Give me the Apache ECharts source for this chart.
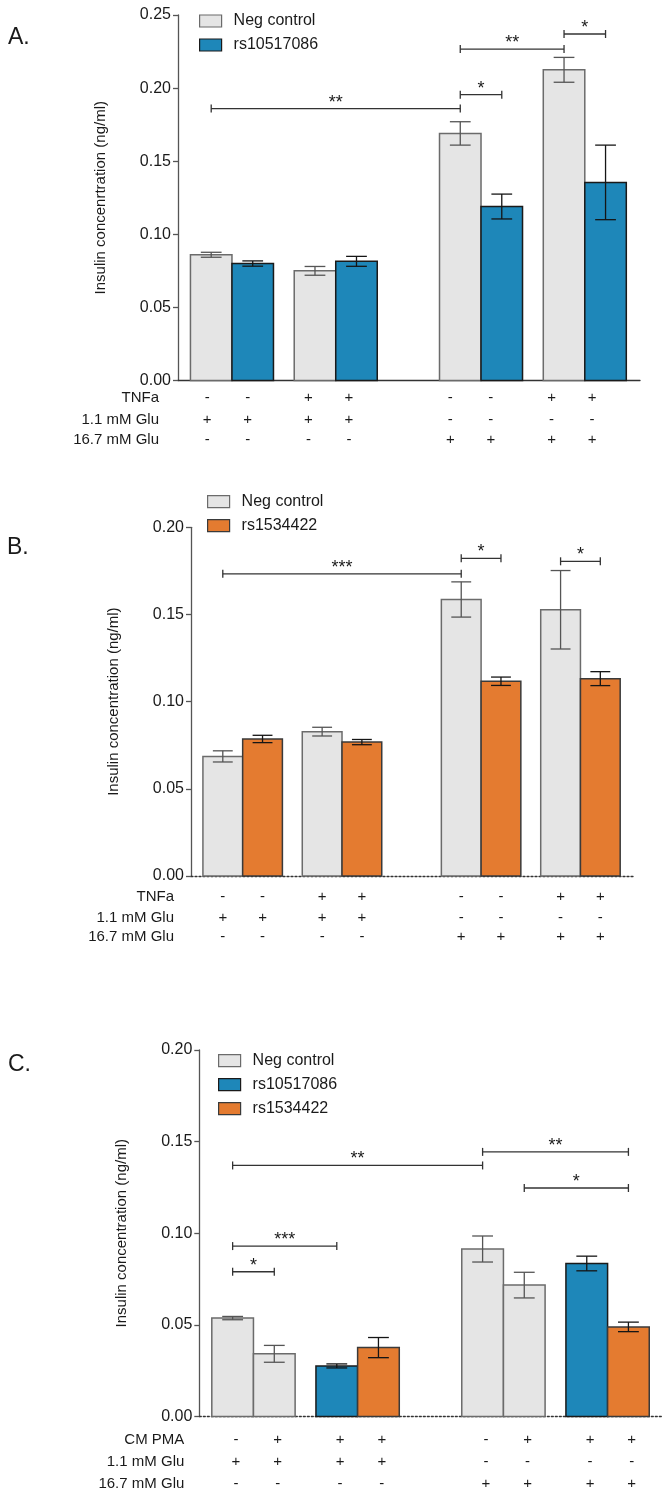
<!DOCTYPE html>
<html>
<head>
<meta charset="utf-8">
<title>Insulin concentration</title>
<script src="https://cdn.jsdelivr.net/npm/echarts@6/dist/echarts.min.js"></script>
<style>
html, body { margin: 0; padding: 0; background: #fff; }
#main { width: 671px; height: 1502px; }
</style>
</head>
<body>
<div id="main"></div>
<script>
var NEG = 'Neg control', RS1 = 'rs10517086', RS2 = 'rs1534422';

// ---- panel A ----
var aGroups = [NEG, RS1, NEG, RS1, NEG, RS1, NEG, RS1];
var aMeans  = [0.086, 0.080, 0.075, 0.0815, 0.169, 0.119, 0.2125, 0.1355];
var aErrors = [0.0017, 0.0018, 0.003, 0.0034, 0.008, 0.0085, 0.0085, 0.0255];
var aRowNames = ['TNFa', '1.1 mM Glu', '16.7 mM Glu'];
var aTnfa   = ['-', '-', '+', '+', '-', '-', '+', '+'];
var aGlu11  = ['+', '+', '+', '+', '-', '-', '-', '-'];
var aGlu167 = ['-', '-', '-', '-', '+', '+', '+', '+'];
// [label, from bar, to bar, height]
var aStars = [['**', 0, 4, 0.186], ['*', 4, 5, 0.1955], ['**', 4, 6, 0.2267], ['*', 6, 7, 0.237]];

// ---- panel B ----
var bGroups = [NEG, RS2, NEG, RS2, NEG, RS2, NEG, RS2];
var bMeans  = [0.0686, 0.0786, 0.0828, 0.0768, 0.1586, 0.1117, 0.1527, 0.1132];
var bErrors = [0.0032, 0.0021, 0.0025, 0.0015, 0.0101, 0.0024, 0.0225, 0.004];
var bRowNames = ['TNFa', '1.1 mM Glu', '16.7 mM Glu'];
var bTnfa   = ['-', '-', '+', '+', '-', '-', '+', '+'];
var bGlu11  = ['+', '+', '+', '+', '-', '-', '-', '-'];
var bGlu167 = ['-', '-', '-', '-', '+', '+', '+', '+'];
var bStars = [['***', 0, 4, 0.1733], ['*', 4, 5, 0.1822], ['*', 6, 7, 0.1805]];

// ---- panel C ----
var cGroups = [NEG, NEG, RS1, RS2, NEG, NEG, RS1, RS2];
var cMeans  = [0.0537, 0.0342, 0.0276, 0.0376, 0.0914, 0.0717, 0.0835, 0.0489];
var cErrors = [0.0009, 0.0046, 0.0011, 0.0055, 0.0071, 0.007, 0.004, 0.0026];
var cRowNames = ['CM PMA', '1.1 mM Glu', '16.7 mM Glu'];
var cPma    = ['-', '+', '+', '+', '-', '+', '+', '+'];
var cGlu11  = ['+', '+', '+', '+', '-', '-', '-', '-'];
var cGlu167 = ['-', '-', '-', '-', '+', '+', '+', '+'];
var cStars = [['**', 0, 4, 0.137], ['***', 0, 2, 0.093], ['*', 0, 1, 0.079], ['**', 4, 7, 0.1444], ['*', 5, 7, 0.1247]];

var FONT = 'Arial, "Liberation Sans", Helvetica, sans-serif';
var TXT = '#1a1a1a';
var FILL = {}, BORDER = {}, ERR = {};
FILL[NEG] = '#e5e5e5'; BORDER[NEG] = '#6b6b6b'; ERR[NEG] = '#555555';
FILL[RS1] = '#1e87b9'; BORDER[RS1] = '#1a1a1a'; ERR[RS1] = '#151515';
FILL[RS2] = '#e47b30'; BORDER[RS2] = '#3a3a3a'; ERR[RS2] = '#151515';

// bars come in pairs, pairs in groups of two
function slotPos(i) {
    return i + 0.5 * Math.floor(i / 2) + Math.floor(i / 4);
}

var panels = [
    { letter: 'A.', groups: aGroups, means: aMeans, errors: aErrors, rowNames: aRowNames,
      rows: [aTnfa, aGlu11, aGlu167], stars: aStars, yMax: 0.25,
      yName: 'Insulin concenrtration (ng/ml)',
      grid: { left: 178, top: 15, width: 462, height: 365.5 }, zeroType: 'solid',
      rowDy: [17.8, 39.5, 59.5], rowLabelDx: -19, colScale: 0.976, colShift: -0.097,
      legend: { left: 199, top: 13 }, letterPos: { left: 8, top: 26 } },
    { letter: 'B.', groups: bGroups, means: bMeans, errors: bErrors, rowNames: bRowNames,
      rows: [bTnfa, bGlu11, bGlu167], stars: bStars, yMax: 0.20,
      yName: 'Insulin concentration (ng/ml)',
      grid: { left: 191, top: 527.3, width: 442.3, height: 348.7 }, zeroType: [2, 2],
      rowDy: [20.7, 41.7, 60.7], rowLabelDx: -17, colScale: 1, colShift: 0,
      legend: { left: 207, top: 493.7 }, letterPos: { left: 7, top: 536 } },
    { letter: 'C.', groups: cGroups, means: cMeans, errors: cErrors, rowNames: cRowNames,
      rows: [cPma, cGlu11, cGlu167], stars: cStars, yMax: 0.20,
      yName: 'Insulin concentration (ng/ml)',
      grid: { left: 199.3, top: 1050, width: 463.7, height: 366.5 }, zeroType: [2, 2],
      rowDy: [23.5, 45.2, 67.8], rowLabelDx: -15, colScale: 1, colShift: 0.08,
      legend: { left: 218, top: 1052.7 }, letterPos: { left: 8, top: 1053 } }
];

var X_MIN = -0.8, X_MAX = 10.33;

function makeBarRender(name) {
    return function (params, api) {
        var x = api.value(0), y = api.value(1), e = api.value(2);
        var tl = api.coord([x - 0.5, y]);
        var br = api.coord([x + 0.5, 0]);
        var hi = api.coord([x, y + e]);
        var lo = api.coord([x, y - e]);
        var cap = api.size([0.5, 0])[0] / 2;
        var es = { stroke: ERR[name], lineWidth: 1.3 };
        return {
            type: 'group',
            children: [
                { type: 'rect', shape: { x: tl[0], y: tl[1], width: br[0] - tl[0], height: br[1] - tl[1] },
                  style: { fill: FILL[name], stroke: BORDER[name], lineWidth: 1.5 } },
                { type: 'line', shape: { x1: hi[0], y1: hi[1], x2: lo[0], y2: lo[1] }, style: es },
                { type: 'line', shape: { x1: hi[0] - cap, y1: hi[1], x2: hi[0] + cap, y2: hi[1] }, style: es },
                { type: 'line', shape: { x1: lo[0] - cap, y1: lo[1], x2: lo[0] + cap, y2: lo[1] }, style: es }
            ]
        };
    };
}

function makeStarRender(stars) {
    return function (params, api) {
        var a = api.coord([api.value(0), api.value(2)]);
        var b = api.coord([api.value(1), api.value(2)]);
        var ls = { stroke: '#333', lineWidth: 1.3 };
        return {
            type: 'group',
            children: [
                { type: 'line', shape: { x1: a[0], y1: a[1], x2: b[0], y2: b[1] }, style: ls },
                { type: 'line', shape: { x1: a[0], y1: a[1] - 4, x2: a[0], y2: a[1] + 4 }, style: ls },
                { type: 'line', shape: { x1: b[0], y1: b[1] - 4, x2: b[0], y2: b[1] + 4 }, style: ls },
                { type: 'text', style: { text: stars[params.dataIndex][0], x: (a[0] + b[0]) / 2, y: a[1] - 6,
                  align: 'center', verticalAlign: 'middle', fontSize: 18, fontFamily: FONT, fill: TXT } }
            ]
        };
    };
}

function makeTableRender(p) {
    return function (params, api) {
        var pt = api.coord([api.value(0), 0]);
        var kids = [];
        p.rows.forEach(function (row, r) {
            kids.push({ type: 'text', style: { text: row[params.dataIndex], x: pt[0], y: pt[1] + p.rowDy[r],
                align: 'center', verticalAlign: 'middle', fontSize: 15, fontFamily: FONT, fill: TXT } });
        });
        if (params.dataIndex === 0) {
            var left = api.coord([X_MIN, 0])[0] + p.rowLabelDx;
            p.rowNames.forEach(function (nm, r) {
                kids.push({ type: 'text', style: { text: nm, x: left, y: pt[1] + p.rowDy[r],
                    align: 'right', verticalAlign: 'middle', fontSize: 15, fontFamily: FONT, fill: TXT } });
            });
        }
        return { type: 'group', children: kids };
    };
}

var grids = [], xAxes = [], yAxes = [], series = [], legends = [], titles = [];

panels.forEach(function (p, k) {
    grids.push(p.grid);
    titles.push({ text: p.letter, left: p.letterPos.left, top: p.letterPos.top, padding: 0,
        textStyle: { fontSize: 23, fontWeight: 'normal', fontFamily: FONT, color: TXT } });
    xAxes.push({
        type: 'value', gridIndex: k, min: X_MIN, max: X_MAX,
        axisLine: { show: true, onZero: false, lineStyle: { color: '#333', width: 1.3, type: p.zeroType } },
        axisTick: { show: false }, axisLabel: { show: false }, splitLine: { show: false }
    });
    yAxes.push({
        type: 'value', gridIndex: k, min: 0, max: p.yMax, interval: 0.05,
        name: p.yName, nameLocation: 'middle', nameGap: 70,
        nameTextStyle: { fontSize: 15, fontFamily: FONT, color: TXT },
        axisLine: { show: true, onZero: false, lineStyle: { color: '#555', width: 1.3 } },
        axisTick: { show: true, length: 5, lineStyle: { color: '#555', width: 1.3 } },
        axisLabel: { fontSize: 16, fontFamily: FONT, color: TXT, margin: 7,
            formatter: function (v) { return v.toFixed(2); } },
        splitLine: { show: false }
    });

    // one bar series per group present in this panel
    var names = [];
    p.groups.forEach(function (g) { if (names.indexOf(g) < 0) names.push(g); });
    names.forEach(function (g) {
        var data = [];
        p.groups.forEach(function (gg, i) {
            if (gg === g) data.push([slotPos(i), p.means[i], p.errors[i]]);
        });
        series.push({
            type: 'custom', name: g, xAxisIndex: k, yAxisIndex: k, silent: true,
            itemStyle: { color: FILL[g] },
            encode: { x: 0, y: 1 },
            renderItem: makeBarRender(g), data: data
        });
    });

    series.push({
        type: 'custom', xAxisIndex: k, yAxisIndex: k, silent: true,
        encode: { x: [0, 1], y: 2 },
        renderItem: makeStarRender(p.stars),
        data: p.stars.map(function (s) { return [slotPos(s[1]), slotPos(s[2]), s[3]]; })
    });

    series.push({
        type: 'custom', xAxisIndex: k, yAxisIndex: k, silent: true,
        encode: { x: 0, y: 1 },
        renderItem: makeTableRender(p),
        data: p.groups.map(function (g, i) { return [p.colShift + slotPos(i) * p.colScale, 0]; })
    });

    legends.push({
        orient: 'vertical', left: p.legend.left, top: p.legend.top, padding: 0,
        itemWidth: 22, itemHeight: 12, itemGap: 8, selectedMode: false,
        textStyle: { fontSize: 16, fontFamily: FONT, color: TXT, padding: [0, 0, 0, 7] },
        data: names.map(function (n) {
            return { name: n, icon: 'rect', itemStyle: { color: FILL[n], borderColor: BORDER[n], borderWidth: 1.2 } };
        })
    });
});

var chart = echarts.init(document.getElementById('main'));
chart.setOption({
    animation: false,
    backgroundColor: '#fff',
    textStyle: { fontFamily: FONT },
    title: titles,
    legend: legends,
    grid: grids,
    xAxis: xAxes,
    yAxis: yAxes,
    series: series
});
</script>
</body>
</html>
